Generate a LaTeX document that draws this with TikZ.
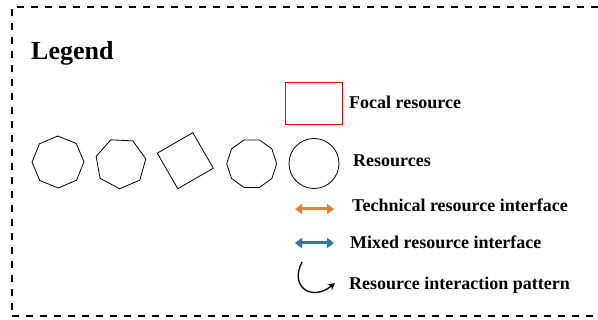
\documentclass[tikz,border=0pt]{standalone}
\usepackage{fontspec}
\setmainfont{Liberation Serif}
\usepackage{tikz}
\usetikzlibrary{shapes,calc}
\usetikzlibrary{positioning}
\usetikzlibrary{arrows.meta}
\definecolor{techorange}{RGB}{237,125,49}
\definecolor{mixedblue}{RGB}{46,117,182}
\tikzset{
  legendtext/.style={anchor=base west,inner sep=0pt,font=\bfseries\fontsize{18}{20}\selectfont},
  resshape/.style={draw,line width=0.8pt,inner sep=0pt},
  iface/.style={line width=3pt,{Triangle[length=7pt,width=10pt]}-{Triangle[length=7pt,width=10pt]}}
}
\begin{document}
\begin{tikzpicture}[x=1pt,y=1pt]
\useasboundingbox (0,0) rectangle (598,-320);

% frame
\draw[line width=2pt,dash pattern=on 7pt off 7pt] (598,-7.5) -- (11.5,-7.5) -- (11.5,-316.5) -- (598,-316.5);

\node[anchor=base west,inner sep=0pt,font=\bfseries\fontsize{26}{28}\selectfont] (title) at (31,-60) {Legend};

% focal resource
\node[draw=red,line width=0.8pt,minimum width=57pt,minimum height=42pt,inner sep=0pt] (focal) at (313.5,-103) {};
\node[legendtext] (focallabel) at (349,-109) {Focal resource};

% resources
\node[resshape,regular polygon,regular polygon sides=8,minimum size=52pt,rotate=23] (res1) at (58,-162) {};
\node[resshape,regular polygon,regular polygon sides=7,minimum size=51pt,rotate=23] (res2) at (120.7,-163.3) {};
\node[resshape,regular polygon,regular polygon sides=4,minimum size=58pt,rotate=30] (res3) at (185.3,-160.7) {};
\node[resshape,regular polygon,regular polygon sides=10,minimum size=50pt] (res4) at (251.7,-163.7) {};
\node[resshape,circle,minimum size=50pt] (res5) at (314,-163.5) {};
\node[legendtext] (reslabel) at (353,-167) {Resources};

% interfaces
\coordinate (t0) at (295,-209);
\coordinate (t1) at (334,-209);
\coordinate (m0) at (295,-243);
\coordinate (m1) at (334,-243);
\draw[iface,techorange] (t0) -- (t1);
\draw[iface,mixedblue] (m0) -- (m1);
\node[legendtext] (techlabel) at (352,-212) {Technical resource interface};
\node[legendtext] (mixedlabel) at (350,-249) {Mixed resource interface};

% interaction pattern
\coordinate (p0) at (302,-262);
\coordinate (p1) at (335,-283);
\draw[line width=1.3pt,-{Stealth[length=7pt,width=7pt]}] (p0) .. controls (289,-287) and (312,-302) .. (p1);
\node[legendtext] (patternlabel) at (349,-290) {Resource interaction pattern};

\end{tikzpicture}
\end{document}
